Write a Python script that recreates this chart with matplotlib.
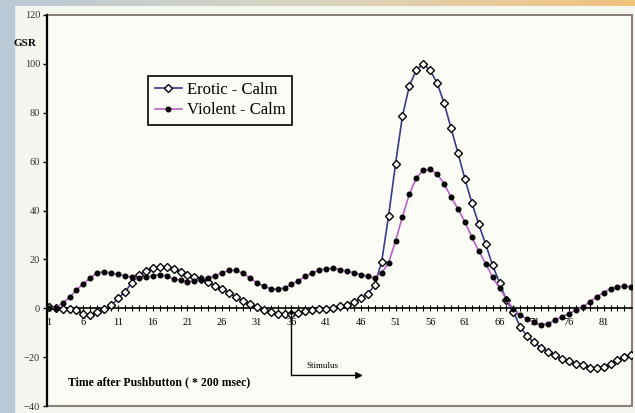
import matplotlib.pyplot as plt
import matplotlib.patches as mpatches
from matplotlib.colors import LinearSegmentedColormap
import numpy as np

plt.rcParams['font.family'] = ['Liberation Serif', 'DejaVu Serif']

# Time index after pushbutton (units of 200 msec)
time_idx = list(range(1, 86))

erotic_calm = [
    0.5, 0.0, -0.4, -0.5, -0.9, -2.2, -2.6, -1.5, -0.4, 1.2,
    4.0, 6.7, 10.5, 13.5, 15.4, 16.3, 17.0, 17.0, 15.9, 14.9,
    13.5, 12.8, 11.8, 10.8, 9.0, 8.0, 6.3, 4.6, 3.0, 1.9,
    0.5, -0.8, -1.5, -2.2, -2.2, -2.2, -1.9, -1.2, -0.8, -0.5,
    -0.2, 0.3, 0.8, 1.3, 2.5, 4.0, 5.8, 9.5, 19.0, 37.7,
    59.0, 78.7, 91.0, 97.5, 100.0, 97.3, 92.2, 84.0, 73.8, 63.6,
    53.0, 43.2, 34.4, 26.2, 17.6, 10.4, 3.3, -1.5, -7.7, -11.5,
    -14.0, -16.3, -17.9, -19.3, -20.6, -21.7, -22.7, -23.4, -24.3, -24.3,
    -24.0, -22.7, -21.3, -20.0, -19.0,
]

violent_calm = [
    0.3, 0.3, 2.0, 4.5, 7.5, 10.0, 12.5, 14.5, 15.0, 14.3,
    13.9, 13.4, 12.6, 12.4, 12.6, 13.3, 13.8, 13.2, 12.0, 11.5,
    10.8, 11.2, 12.0, 12.4, 13.2, 14.6, 15.5, 15.5, 14.3, 12.5,
    10.5, 9.0, 8.0, 7.8, 8.3, 9.8, 11.3, 13.0, 14.5, 15.5,
    16.2, 16.3, 15.8, 15.2, 14.5, 13.8, 13.1, 12.4, 14.5, 18.5,
    27.5, 37.5, 46.7, 53.4, 56.5, 56.8, 54.9, 51.0, 45.5, 40.7,
    35.4, 29.1, 23.5, 18.3, 12.8, 8.3, 3.8, -0.5, -2.9, -4.4,
    -5.7, -6.8, -6.3, -4.9, -3.5, -2.2, -0.8, 0.5, 2.6, 4.6,
    6.4, 8.0, 8.7, 9.1, 8.7,
]

x_ticks = list(range(1, 86, 5))
y_ticks = [-40, -20, 0, 20, 40, 60, 80, 100, 120]
stimulus_at = 36

fig = plt.figure(figsize=(6.35, 4.13), dpi=100)
fig.patch.set_facecolor('#f6f6f1')

# decorative page bands (left blue strip, top gradient)
fig.patches.append(mpatches.Rectangle((0, 0), 14 / 635, 1, transform=fig.transFigure,
                                      color='#b9cad6', zorder=0))
band = fig.add_axes([0, 1 - 6 / 413, 1, 6 / 413])
grad = np.linspace(0, 1, 256).reshape(1, -1)
cm = LinearSegmentedColormap.from_list('band', ['#b9cad6', '#d9d4c0', '#f2c27c'])
band.imshow(grad, aspect='auto', cmap=cm)
band.set_axis_off()

ax = fig.add_axes([47 / 635, 1 - 406 / 413, 585 / 635, 391 / 413])
ax.set_facecolor('#fcfcf7')

ax.plot(time_idx, erotic_calm, color='#3a3a8c', lw=1.2, marker='D', ms=3.6,
        mfc='white', mec='black', mew=1.0, label='Erotic - Calm', zorder=3)
ax.plot(time_idx, violent_calm, color='#b862c8', lw=1.2, marker='o', ms=3.3,
        mfc='black', mec='black', label='Violent - Calm', zorder=4)

ax.set_xlim(0.75, 85.1)
ax.set_ylim(-40, 120)
ax.set_axisbelow(True)

for s in ['top', 'right']:
    ax.spines[s].set_visible(False)
ax.spines['left'].set_linewidth(1.6)
ax.spines['bottom'].set_position(('data', 0))
ax.spines['bottom'].set_linewidth(1.2)
ax.add_patch(mpatches.Rectangle((0, 0), 1, 1, transform=ax.transAxes, fill=False,
                                edgecolor='#8a817b', lw=1.5, clip_on=False, zorder=1))

ax.set_xticks(x_ticks)
ax.set_xticks(time_idx, minor=True)
ax.set_yticks(y_ticks)
ax.tick_params(axis='x', which='both', direction='inout', length=4, width=0.8,
               labelsize=7.5, pad=5, colors='black')
ax.tick_params(axis='y', direction='out', length=3, width=1, labelsize=7.5, pad=2,
               labelcolor='#333333')

leg = ax.legend(loc='upper left', bbox_to_anchor=(0.173, 0.845), fontsize=12,
                frameon=True, fancybox=False, edgecolor='black', facecolor='#fcfcf7',
                framealpha=1, handlelength=1.6, borderpad=0.4, labelspacing=0.25,
                handletextpad=0.3, borderaxespad=0)
leg.get_frame().set_linewidth(1.2)

fig.text(25 / 635, 1 - 43 / 413, 'GSR', fontsize=8, fontweight='bold',
         ha='center', va='center')
ax.text(0.036, 0.061, 'Time after Pushbutton ( * 200 msec)', transform=ax.transAxes,
        fontsize=8.5, fontweight='bold', ha='left', va='center')

# stimulus marker
ax.plot([stimulus_at, stimulus_at], [-2, -27.5], color='black', lw=1.0)
ax.annotate('', xy=(46.3, -27.5), xytext=(stimulus_at, -27.5),
            arrowprops=dict(arrowstyle='-|>', color='black', lw=1.0,
                            mutation_scale=10, shrinkA=0, shrinkB=0))
ax.annotate('', xy=(stimulus_at, -0.5), xytext=(stimulus_at, -4),
            arrowprops=dict(arrowstyle='-|>', color='black', lw=0.8,
                            mutation_scale=6, shrinkA=0, shrinkB=0))
ax.text(40.5, -23.5, 'Stimulus', fontsize=6.5, ha='center', va='center')

fig.savefig('out.png', dpi=100, facecolor=fig.get_facecolor())
